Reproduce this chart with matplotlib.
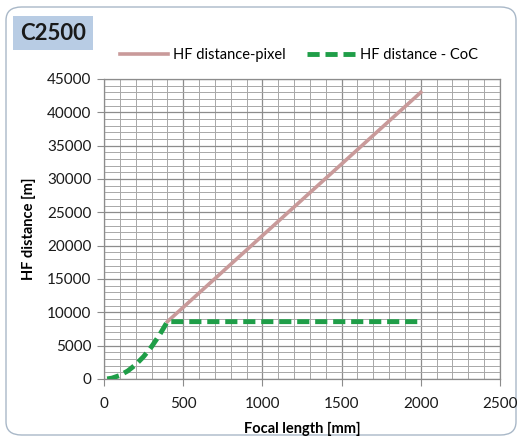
import numpy as np
import matplotlib.pyplot as plt
from matplotlib.patches import FancyBboxPatch
from matplotlib.ticker import MultipleLocator

# Data
focal_pixel = [400, 800, 1200, 1600, 2000]
hf_pixel = [8600, 17200, 25800, 34400, 43000]

focal_coc = [20, 50, 100, 150, 200, 250, 300, 350, 400, 800, 1200, 1600, 2000]
hf_coc = [20, 130, 540, 1210, 2150, 3360, 4840, 6590, 8600, 8600, 8600, 8600, 8600]

title = "C2500"
x_label = "Focal length [mm]"
y_label = "HF distance [m]"
pixel_name = "HF distance-pixel"
coc_name = "HF distance - CoC"

plt.rcParams['font.family'] = ['Lato', 'DejaVu Sans']

fig = plt.figure(figsize=(5.2, 4.41), dpi=100)
ax = fig.add_axes([104 / 520, 62 / 441, 396 / 520, 300 / 441])

# rounded outer frame
frame = FancyBboxPatch((6 / 520, 6 / 441), 510 / 520, 428 / 441,
                       boxstyle="round,pad=0,rounding_size=0.03",
                       transform=fig.transFigure, facecolor="white",
                       edgecolor="#a9b8c8", linewidth=1.0, zorder=-10)
fig.patches.append(frame)

ax.plot(focal_pixel, hf_pixel, color="#c99a9a", linewidth=2.6,
        label=pixel_name, zorder=3)
ax.plot(focal_coc, hf_coc, color="#1f9e48", linewidth=3.5,
        linestyle=(0, (2.5, 1.2)), label=coc_name, zorder=4)

ax.set_xlim(0, 2500)
ax.set_ylim(0, 45000)
ax.xaxis.set_major_locator(MultipleLocator(500))
ax.xaxis.set_minor_locator(MultipleLocator(100))
ax.yaxis.set_major_locator(MultipleLocator(5000))
ax.yaxis.set_minor_locator(MultipleLocator(1000))
ax.grid(which="major", color="#8c8c8c", linewidth=0.9)
ax.grid(which="minor", color="#a8a8a8", linewidth=0.7)
ax.set_axisbelow(True)
for s in ax.spines.values():
    s.set_color("#8c8c8c")
    s.set_linewidth(0.9)
ax.tick_params(which="major", length=5, color="#8c8c8c", labelsize=11,
               labelcolor="#1a1a1a")
ax.tick_params(which="minor", length=0)
ax.tick_params(axis="x", pad=8)
ax.tick_params(axis="y", pad=4)

ax.set_xlabel(x_label, fontsize=10.5, fontweight="bold", labelpad=8)
ax.set_ylabel(y_label, fontsize=10.5, fontweight="bold", labelpad=8)

fig.legend(loc="center", bbox_to_anchor=(0.575, 0.875), ncol=2,
           frameon=False, fontsize=10.5, handlelength=3.3,
           columnspacing=1.5, handletextpad=0.3)

fig.text(20 / 520, 1 - 33 / 441, title, fontsize=16, fontweight="bold",
         va="center", ha="left", color="#1a1a1a",
         bbox=dict(boxstyle="square,pad=0.3", facecolor="#b8cce4",
                   edgecolor="none"))

fig.savefig("out.png", dpi=100)
